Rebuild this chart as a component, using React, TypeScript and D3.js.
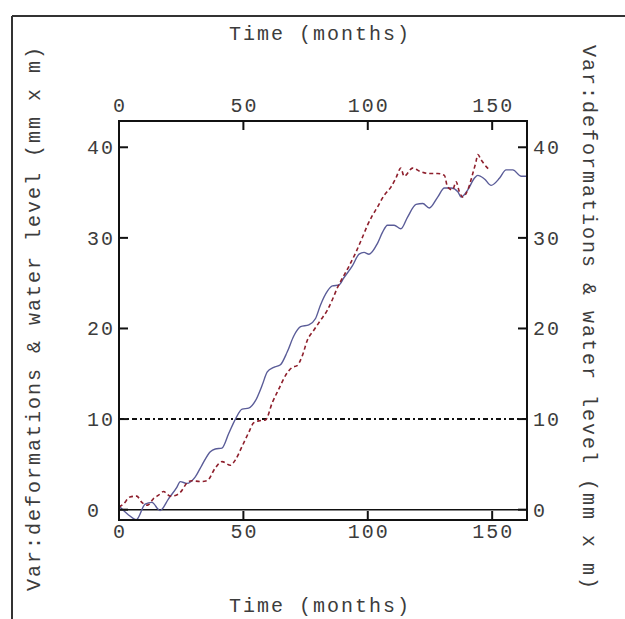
import React from "react";
import * as d3 from "d3";

// Axis ticks and reference level
const xTicks = [0, 50, 100, 150];
const yTicks = [0, 10, 20, 30, 40];
const referenceLevel = 10;
const axisTitleX = "Time (months)";
const axisTitleY = "Var:deformations & water level (mm x m)";

// Solid series (months, value)
const deformMonths = [
  0, 3.5, 7, 10.5, 13.2, 16.5, 19.9, 23.3, 24.6, 27.3, 30.6, 33.3, 36.7, 38.7, 41.4, 44.1,
  46.8, 49.5, 52.1, 54.8, 57.5, 59.6, 62.2, 64.9, 67.6, 70.3, 73, 76.3, 79, 81, 83.7, 85.8,
  88.4, 90.4, 93.8, 96.5, 98.5, 100.5, 103.9, 105.9, 107.9, 110.6, 113.3, 116, 119.4, 122.1,
  124.7, 128.1, 130.8, 133.5, 136.2, 137.5, 140.2, 142.9, 144.2, 146.9, 149.6, 153, 155.6,
  158.3, 161.7, 164,
];
const deformValues = [
  0.4, -0.5, -1.1, 0.6, 0.8, -0.1, 1.2, 2.5, 3.1, 2.9, 3.6, 4.9, 6.4, 6.7, 6.8, 8.4,
  10.0, 11.1, 11.2, 12.0, 13.7, 15.2, 15.7, 16.0, 17.4, 19.2, 20.2, 20.4, 21.1, 22.6, 24.1, 24.7,
  24.8, 25.6, 26.9, 28.2, 28.4, 28.2, 29.4, 30.6, 31.4, 31.4, 31.0, 32.3, 33.7, 33.8,
  33.3, 34.5, 35.5, 35.5, 35.1, 34.5, 35.3, 36.6, 36.9, 36.5, 35.8, 36.6, 37.5,
  37.5, 36.8, 36.8,
];

// Dashed series (months, value)
const waterMonths = [
  0, 1.7, 4.4, 7.1, 9.2, 11.5, 13.8, 15.9, 17.9, 20.6, 23, 24.6, 27.9, 29.3, 32.7, 35.4,
  38.7, 41.4, 44.8, 46.8, 49.5, 52.1, 54.2, 56.2, 58.9, 61.6, 64.2, 66.9, 69.6, 71.6, 73.7,
  75.7, 78.3, 81, 83.7, 85.8, 87.8, 89.1, 92.5, 95.2, 97.9, 99.9, 101.9, 103.9, 106.6, 109.3,
  111.3, 113.3, 114.6, 118, 121.4, 124.7, 128.1, 130.8, 132.1, 134.1, 135.5, 136.8, 138.2,
  140.2, 142.2, 143.5, 144.2, 145.6, 146.9, 148.9,
];
const waterValues = [
  0.3, 0.6, 1.4, 1.5, 0.8, 0.5, 1.2, 1.6, 2.0, 1.5, 1.6, 1.9, 3.1, 3.2, 3.1, 3.2,
  4.6, 5.3, 4.9, 5.5, 7.0, 8.5, 9.6, 9.8, 9.9, 11.8, 13.3, 14.8, 15.7, 15.9, 17.0,
  18.7, 19.8, 20.9, 22.0, 23.2, 24.5, 25.2, 26.9, 28.4, 30.1, 31.4, 32.5, 33.4, 34.7, 35.6,
  36.6, 37.7, 36.8, 37.7, 37.3, 37.1, 37.1, 36.9, 35.6, 35.3, 36.2, 35.1, 34.5,
  35.3, 37.1, 38.4, 39.2, 38.6, 38.1, 37.5,
];

const W = 625;
const H = 619;
const plot = { left: 119, right: 527, top: 121, bottom: 520 };
const FONT = "'Liberation Mono', 'Courier New', monospace";
const FS = 20;
const LS = 2;
const textColor = "#3c3c3c";

export default function App() {
  const x = d3.scaleLinear().domain([0, 164]).range([plot.left, plot.right]);
  const y = d3.scaleLinear().domain([-1.14, 42.9]).range([plot.bottom, plot.top]);

  const line = d3
    .line<[number, number]>()
    .x((d) => x(d[0]))
    .y((d) => y(d[1]))
    .curve(d3.curveMonotoneX);

  const deform = deformMonths.map((m, i) => [m, deformValues[i]] as [number, number]);
  const water = waterMonths.map((m, i) => [m, waterValues[i]] as [number, number]);

  const tickLen = 9;
  const cx = (plot.left + plot.right) / 2;
  const cy = 318;

  const textProps = {
    fontFamily: FONT,
    fontSize: FS,
    letterSpacing: LS,
    fill: textColor,
  };

  return (
    <svg
      width={W}
      height={H}
      style={{ position: "absolute", left: 0, top: 0, background: "#fff" }}
    >
      <rect x={0} y={0} width={W} height={H} fill="#fff" />
      {/* outer frame */}
      <line x1={12} y1={16} x2={W} y2={16} stroke="#333" strokeWidth={2} />
      <line x1={12} y1={16} x2={12} y2={H} stroke="#333" strokeWidth={2} />

      <defs>
        <clipPath id="plot-clip">
          <rect
            x={plot.left}
            y={plot.top}
            width={plot.right - plot.left}
            height={plot.bottom - plot.top}
          />
        </clipPath>
      </defs>

      {/* zero line and reference level */}
      <line
        x1={plot.left}
        x2={plot.right}
        y1={y(0)}
        y2={y(0)}
        stroke="#111"
        strokeWidth={1.5}
      />
      <line
        x1={plot.left}
        x2={plot.right}
        y1={y(referenceLevel)}
        y2={y(referenceLevel)}
        stroke="#111"
        strokeWidth={2}
        strokeDasharray="5,3,2,3"
      />

      <g clipPath="url(#plot-clip)">
        <path d={line(deform) ?? ""} fill="none" stroke="#5a5c98" strokeWidth={1.4} />
        <path
          d={line(water) ?? ""}
          fill="none"
          stroke="#8e1f2c"
          strokeWidth={1.6}
          strokeDasharray="4,3"
        />
      </g>

      {/* plot border */}
      <rect
        x={plot.left}
        y={plot.top}
        width={plot.right - plot.left}
        height={plot.bottom - plot.top}
        fill="none"
        stroke="#111"
        strokeWidth={2}
      />

      {/* ticks */}
      {xTicks.map((t) => (
        <g key={"xt" + t}>
          <line x1={x(t)} x2={x(t)} y1={plot.bottom} y2={plot.bottom - tickLen} stroke="#111" strokeWidth={2} />
          <line x1={x(t)} x2={x(t)} y1={plot.top} y2={plot.top + tickLen} stroke="#111" strokeWidth={2} />
          <text x={x(t) + 1} y={538} textAnchor="middle" {...textProps}>
            {t}
          </text>
          <text x={x(t) + 1} y={112} textAnchor="middle" {...textProps}>
            {t}
          </text>
        </g>
      ))}
      {yTicks.map((t) => (
        <g key={"yt" + t}>
          <line x1={plot.left} x2={plot.left + tickLen} y1={y(t)} y2={y(t)} stroke="#111" strokeWidth={2} />
          <line x1={plot.right} x2={plot.right - tickLen} y1={y(t)} y2={y(t)} stroke="#111" strokeWidth={2} />
          <text x={87} y={y(t)} dy="0.35em" textAnchor="start" {...textProps}>
            {t}
          </text>
          <text x={533} y={y(t)} dy="0.35em" textAnchor="start" {...textProps}>
            {t}
          </text>
        </g>
      ))}

      {/* axis titles */}
      <text x={cx - 3} y={40} textAnchor="middle" {...textProps}>
        {axisTitleX}
      </text>
      <text x={cx - 3} y={612} textAnchor="middle" {...textProps}>
        {axisTitleX}
      </text>
      <text
        transform={`translate(33,${cy}) rotate(-90)`}
        textAnchor="middle"
        dy="0.35em"
        {...textProps}
      >
        {axisTitleY}
      </text>
      <text
        transform={`translate(590,${cy}) rotate(90)`}
        textAnchor="middle"
        dy="0.35em"
        {...textProps}
      >
        {axisTitleY}
      </text>
    </svg>
  );
}
